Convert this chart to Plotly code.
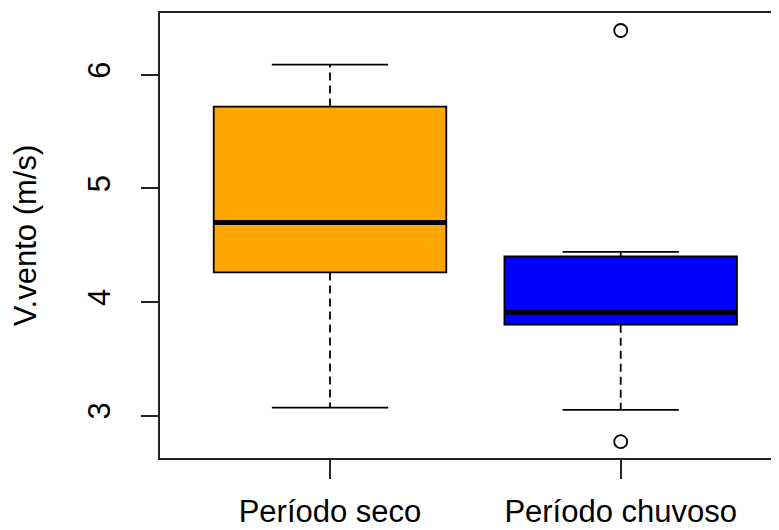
import plotly.graph_objects as go

# ---- data ----
categories = ["Período seco", "Período chuvoso"]
q1_vals = [4.26, 3.80]
median_vals = [4.70, 3.91]
q3_vals = [5.72, 4.40]
lower_whisker = [3.07, 3.05]
upper_whisker = [6.09, 4.44]
outliers = [[], [6.39, 2.77]]
fill_colors = ["#FFA500", "#0000FF"]
y_ticks = [3, 4, 5, 6]
y_title = "V.vento (m/s)"

positions = [1, 2]
BOX_W = 0.8
CAP_W = 0.4
LW = 1.8
FONT = "Liberation Sans, Arial, sans-serif"
FS = 31

fig = go.Figure()

for i, pos in enumerate(positions):
    # box body
    fig.add_trace(go.Box(
        x=[pos], q1=[q1_vals[i]], median=[median_vals[i]], q3=[q3_vals[i]],
        lowerfence=[q1_vals[i]], upperfence=[q3_vals[i]],
        width=BOX_W, fillcolor=fill_colors[i],
        line=dict(color="black", width=LW), whiskerwidth=0,
        showlegend=False, hoverinfo="skip", boxpoints=False,
    ))
    # dashed whiskers
    fig.add_trace(go.Scatter(
        x=[pos, pos, None, pos, pos],
        y=[q3_vals[i], upper_whisker[i], None, q1_vals[i], lower_whisker[i]],
        mode="lines", line=dict(color="black", width=LW, dash="8px,5px"),
        showlegend=False, hoverinfo="skip",
    ))
    # whisker caps
    fig.add_trace(go.Scatter(
        x=[pos - CAP_W / 2, pos + CAP_W / 2, None, pos - CAP_W / 2, pos + CAP_W / 2],
        y=[upper_whisker[i], upper_whisker[i], None, lower_whisker[i], lower_whisker[i]],
        mode="lines", line=dict(color="black", width=LW),
        showlegend=False, hoverinfo="skip",
    ))
    # thick median
    fig.add_trace(go.Scatter(
        x=[pos - BOX_W / 2, pos + BOX_W / 2],
        y=[median_vals[i], median_vals[i]],
        mode="lines", line=dict(color="black", width=5),
        showlegend=False, hoverinfo="skip",
    ))
    # outliers
    if outliers[i]:
        fig.add_trace(go.Scatter(
            x=[pos] * len(outliers[i]), y=outliers[i], mode="markers",
            marker=dict(symbol="circle-open", size=13, color="black",
                        line=dict(width=LW, color="black")),
            showlegend=False, hoverinfo="skip",
        ))

# page body has an 8px default margin; figure sized to fit the 779x530 window
fig.update_layout(
    width=771, height=522,
    margin=dict(l=152, r=0, t=5, b=72),
    paper_bgcolor="white", plot_bgcolor="white",
    font=dict(family=FONT, size=FS, color="black"),
    showlegend=False,
)
fig.update_xaxes(
    range=[0.4152, 2.5445], tickvals=positions, ticktext=categories,
    showline=True, linecolor="#222222", linewidth=LW, mirror=True,
    ticks="outside", ticklen=19, tickwidth=LW, tickcolor="#222222",
    showgrid=False, zeroline=False, ticklabelstandoff=6,
    tickfont=dict(size=FS), automargin=False,
)
fig.update_yaxes(
    range=[2.626, 6.544], tickvals=y_ticks,
    showline=True, linecolor="#222222", linewidth=LW, mirror=False,
    ticks="outside", ticklen=17, tickwidth=LW, tickcolor="#222222",
    showgrid=False, zeroline=False, tickangle=-90, ticklabelstandoff=19,
    tickfont=dict(size=FS), automargin=False,
    title=dict(text=y_title, font=dict(size=FS), standoff=38),
)

fig.write_html("out.html")
